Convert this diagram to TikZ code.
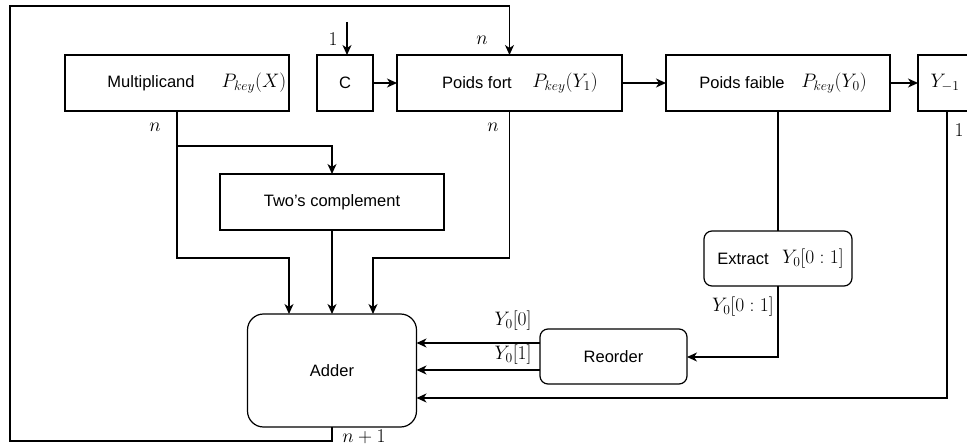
\RequirePackage{fix-cm}
\documentclass[tikz,border=0pt]{standalone}
\usepackage{fontspec}
\setmainfont{Liberation Sans}
\usetikzlibrary{arrows.meta}
\newcommand{\mth}[1]{{\fontsize{19.5}{22}\selectfont$#1$}}
\begin{document}
\begin{tikzpicture}[x=1pt,y=-1pt,
  line width=1.2pt,
  every node/.style={inner sep=0pt,outer sep=0pt},
  sqbox/.style={draw,line width=1.2pt,minimum height=56pt},
  rbox/.style={draw,line width=1.2pt,rounded corners=8pt},
  txt/.style={font=\fontsize{16.5}{19}\selectfont},
  arr/.style={-{Stealth[length=10pt,width=9pt,inset=3pt]}},
  lbl/.style={inner sep=1pt}]
\clip (0,0) rectangle (967,446);
\useasboundingbox (0,0) rectangle (967,446);
% top row boxes
\node[sqbox,minimum width=224pt] (M) at (177,83) {};
\node[txt] (Mt) at (151,83) {Multiplicand};
\node (Mm) at (254,83) {\mth{P_{key}(X)}};
\node[sqbox,minimum width=56pt,txt] (C) at (345,83) {C};
\node[sqbox,minimum width=225pt] (PF) at (509.5,83) {};
\node[txt] (PFt) at (477,83) {Poids fort};
\node (PFm) at (565,83) {\mth{P_{key}(Y_1)}};
\node[sqbox,minimum width=224pt] (PW) at (778,83) {};
\node[txt] (PWt) at (742,83) {Poids faible};
\node (PWm) at (834,83) {\mth{P_{key}(Y_0)}};
\node[sqbox,minimum width=58pt] (YM) at (947,83) {};
\node (YMm) at (945,83) {\mth{Y_{-1}}};
% middle
\node[sqbox,minimum width=224pt,txt] (TC) at (332,202) {Two's complement};
\node[rbox,minimum width=148pt,minimum height=55pt] (EX) at (778,258.5) {};
\node[txt] (EXt) at (743,258.5) {Extract};
\node (EXm) at (813,258.5) {\mth{Y_0[0:1]}};
\node[rbox,minimum width=147pt,minimum height=55pt,txt] (RE) at (613.5,356.5) {Reorder};
\node[draw,line width=1.2pt,rounded corners=16pt,minimum width=169pt,minimum height=113pt,txt] (AD) at (332,370.5) {Adder};
% coordinates
\coordinate (one) at (347,22);
\coordinate (fbB) at (10,441);
\coordinate (fbT) at (10,6);
\coordinate (brM) at (177,146);
\coordinate (mL) at (177,258);
\coordinate (pR) at (509.5,258);
\coordinate (exB) at (778,357);
\coordinate (ymB) at (947,398);
% connectors
\draw[arr] (one) -- (one |- C.north);
\draw[arr] (C.east) -- (PF.west);
\draw[arr] (PF.east) -- (PW.west);
\draw[arr] (PW.east) -- (YM.west);
\draw[arr] (AD.south) |- (fbB) -- (fbT) -| (PF.north);
\draw[arr] (M.south) -- (mL) -| (289,314);
\draw[arr] (brM) -| (TC.north);
\draw[arr] (TC.south) -- (AD.north);
\draw[arr] (PF.south) -- (pR) -| (373,314);
\draw (PW.south) -- (EX.north);
\draw[arr] (EX.south) -- (exB) -- (RE.east |- exB);
\draw[arr] (RE.west |- 0,343) -- (AD.east |- 0,343);
\draw[arr] (RE.west |- 0,370) -- (AD.east |- 0,370);
\draw[arr] (YM.south -| ymB) -- (ymB) -- (AD.east |- ymB);
% labels
\node[lbl] (l1) at (333,39) {\mth{1}};
\node[lbl] (ln1) at (482,40) {\mth{n}};
\node[lbl] (ln2) at (155,127) {\mth{n}};
\node[lbl] (ln3) at (493,127) {\mth{n}};
\node[lbl] (l1r) at (959,130) {\mth{1}};
\node[lbl] (lY00) at (513,321) {\mth{Y_0[0]}};
\node[lbl] (lY01) at (513,355) {\mth{Y_0[1]}};
\node[lbl] (lY01r) at (743,307) {\mth{Y_0[0:1]}};
\node[lbl] (lnp1) at (364,437) {\mth{n+1}};
\end{tikzpicture}
\end{document}
